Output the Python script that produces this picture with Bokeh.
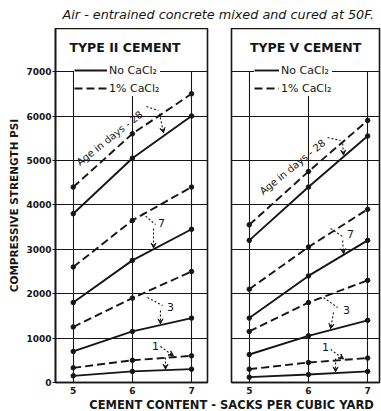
from bokeh.plotting import figure
from bokeh.layouts import column, row
from bokeh.models import Range1d, FixedTicker, Legend, LegendItem, Arrow, VeeHead
from bokeh.core.properties import value
from bokeh.embed import file_html
from bokeh.resources import INLINE

# ---------------- data ----------------
sacks = [5, 6, 7]
x_ticks = [5, 6, 7]
y_ticks = [0, 1000, 2000, 3000, 4000, 5000, 6000, 7000]
grid_y = [1000, 2000, 3000, 4000, 5000, 6000, 7000]

# Type II cement (psi)
t2_1d_no = [150, 250, 300]
t2_1d_ca = [330, 500, 600]
t2_3d_no = [700, 1150, 1450]
t2_3d_ca = [1250, 1900, 2500]
t2_7d_no = [1800, 2750, 3450]
t2_7d_ca = [2600, 3650, 4400]
t2_28d_no = [3800, 5050, 6000]
t2_28d_ca = [4400, 5600, 6500]

# Type V cement (psi)
t5_1d_no = [120, 180, 250]
t5_1d_ca = [300, 450, 550]
t5_3d_no = [630, 1050, 1400]
t5_3d_ca = [1150, 1800, 2300]
t5_7d_no = [1450, 2400, 3200]
t5_7d_ca = [2100, 3050, 3900]
t5_28d_no = [3200, 4400, 5550]
t5_28d_ca = [3550, 4750, 5900]

title_text = "Air - entrained concrete mixed and cured at 50F."
panel_titles = ["TYPE II CEMENT", "TYPE V CEMENT"]
legend_labels = ["No CaCl₂", "1% CaCl₂"]
age_labels = ["Age in days - 28", "7", "3", "1"]
y_label = "COMPRESSIVE STRENGTH PSI"
x_label = "CEMENT CONTENT - SACKS PER CUBIC YARD"

INK = "#161616"
FONT = "DejaVu Sans"


def make_panel(no_series, ca_series, title, title_x, frame_w, x_end,
               left_b, right_b, with_y, legend_x, glyph_w, ann):
    p = figure(frame_width=frame_w, frame_height=354,
               x_range=Range1d(4.70, x_end), y_range=Range1d(0, 7970),
               output_backend="svg", toolbar_location=None, title=None,
               min_border_left=left_b, min_border_right=right_b,
               min_border_top=0, min_border_bottom=14,
               y_axis_location="left" if with_y else None)
    p.background_fill_color = "white"
    p.border_fill_color = "white"
    p.outline_line_color = INK
    p.outline_line_width = 1.6
    p.outline_line_alpha = 1.0

    # grids
    p.xgrid.ticker = FixedTicker(ticks=x_ticks)
    p.ygrid.ticker = FixedTicker(ticks=grid_y)
    p.grid.grid_line_color = INK
    p.grid.grid_line_width = 1.1
    p.grid.grid_line_alpha = 1.0
    try:
        p.xgrid.cross_bounds = (0, 7000)
    except Exception:
        pass

    # x axis
    p.xaxis.ticker = FixedTicker(ticks=x_ticks)
    p.xaxis.axis_line_color = INK
    p.xaxis.axis_line_width = 1.6
    p.xaxis.major_tick_out = 0
    p.xaxis.major_tick_in = 0
    p.xaxis.minor_tick_out = 0
    p.xaxis.major_label_standoff = 4
    p.xaxis.major_label_text_font = FONT
    p.xaxis.major_label_text_font_size = "9px"
    p.xaxis.major_label_text_font_style = "bold"
    p.xaxis.major_label_text_color = INK

    if with_y:
        p.yaxis.ticker = FixedTicker(ticks=y_ticks)
        p.yaxis.axis_line_color = INK
        p.yaxis.axis_line_width = 1.6
        p.yaxis.major_tick_out = 3
        p.yaxis.major_tick_in = 0
        p.yaxis.major_tick_line_color = INK
        p.yaxis.minor_tick_out = 0
        p.yaxis.major_label_standoff = 1
        p.yaxis.major_label_text_font = FONT
        p.yaxis.major_label_text_font_size = "9px"
        p.yaxis.major_label_text_font_style = "bold"
        p.yaxis.major_label_text_color = INK
        p.yaxis.axis_label = y_label
        p.yaxis.axis_label_text_font = FONT
        p.yaxis.axis_label_text_font_size = "10.5px"
        p.yaxis.axis_label_text_font_style = "bold"
        p.yaxis.axis_label_text_color = INK
        p.yaxis.axis_label_standoff = 3

    solid_r = None
    dash_r = None
    for vals in no_series:
        r = p.line(sacks, vals, line_color=INK, line_width=1.9)
        p.scatter(sacks, vals, size=4.5, color=INK)
        solid_r = solid_r or r
    for vals in ca_series:
        r = p.line(sacks, vals, line_color=INK, line_width=1.9, line_dash="8 4")
        p.scatter(sacks, vals, size=4.5, color=INK)
        dash_r = dash_r or r

    legend = Legend(items=[LegendItem(label=legend_labels[0], renderers=[solid_r]),
                           LegendItem(label=legend_labels[1], renderers=[dash_r])],
                    location=(legend_x, 286), padding=3, margin=0, spacing=2,
                    glyph_width=glyph_w, glyph_height=16, label_height=16,
                    label_standoff=2, label_text_font=FONT,
                    label_text_font_size="11px", label_text_color=INK,
                    background_fill_color="white", background_fill_alpha=1.0,
                    border_line_color=None)
    p.add_layout(legend)

    # panel title
    p.text(x=[title_x], y=[7540], text=[title], text_font=value(FONT),
           text_font_size="12.5px", text_font_style="bold", text_color=INK,
           text_align="center", text_baseline="middle")

    # annotations
    ax, ay, aang = ann["age"]
    p.text(x=[ax], y=[ay], text=[age_labels[0]], angle=aang, text_font=value(FONT),
           text_font_size="10px", text_color=INK, text_align="center",
           text_baseline="middle")
    lx, ly = zip(*ann["nums"])
    p.text(x=list(lx), y=list(ly), text=age_labels[1:], text_font=value(FONT),
           text_font_size="11px", text_color=INK, text_align="center",
           text_baseline="middle")
    sx0, sy0, sx1, sy1 = zip(*ann["brackets"])
    p.segment(x0=list(sx0), y0=list(sy0), x1=list(sx1), y1=list(sy1),
              line_color=INK, line_width=1.1, line_dash="2 2")
    for (x0, y0, x1, y1) in ann["arrows"]:
        p.add_layout(Arrow(end=VeeHead(size=5, line_color=INK, fill_color=INK, line_width=1),
                           x_start=x0, y_start=y0, x_end=x1, y_end=y1,
                           line_color=INK, line_width=1.1, line_dash="2 2"))
    return p


ann_left = {
    "age": (5.613, 5500, 0.67),
    "nums": [(6.492, 3602), (6.644, 1711), (6.391, 833)],
    "brackets": [(6.238, 6213, 6.441, 6123), (6.171, 3804, 6.391, 3557),
                 (6.255, 1913, 6.509, 1733)],
    "arrows": [(6.458, 6055, 6.526, 5620), (6.357, 3467, 6.357, 3030),
               (6.475, 1621, 6.475, 1320), (6.475, 810, 6.695, 600),
               (6.560, 563, 6.560, 300)],
}
ann_right = {
    "age": (5.731, 4850, 0.68),
    "nums": [(6.712, 3354), (6.644, 1643), (6.289, 788)],
    "brackets": [(6.323, 5515, 6.543, 5447), (6.374, 3467, 6.577, 3286),
                 (6.255, 1913, 6.492, 1688)],
    "arrows": [(6.577, 5380, 6.593, 5120), (6.577, 3196, 6.593, 2900),
               (6.424, 1576, 6.374, 1210), (6.374, 743, 6.593, 530),
               (6.458, 540, 6.458, 240)],
}

p1 = make_panel([t2_1d_no, t2_3d_no, t2_7d_no, t2_28d_no],
                [t2_1d_ca, t2_3d_ca, t2_7d_ca, t2_28d_ca],
                panel_titles[0], 5.875, 152, 7.27, 55, 12, True, 19, 33, ann_left)
p2 = make_panel([t5_1d_no, t5_3d_no, t5_7d_no, t5_28d_no],
                [t5_1d_ca, t5_3d_ca, t5_7d_ca, t5_28d_ca],
                panel_titles[1], 5.951, 148, 7.20, 12, 2, False, 23, 25, ann_right)


def text_strip(h, txt, x, y, size, style, align, baseline):
    f = figure(width=381, height=h, x_range=Range1d(0, 381), y_range=Range1d(0, h),
               output_backend="svg", toolbar_location=None, title=None,
               x_axis_location=None, y_axis_location=None, min_border=0)
    f.grid.visible = False
    f.outline_line_color = None
    f.text(x=[x], y=[y], text=[txt], text_font=value(FONT), text_font_size=size,
           text_font_style=style, text_color=INK, text_align=align,
           text_baseline=baseline)
    return f


header = text_strip(28, title_text, 62, 14, "12.8px", "italic", "left", "middle")
footer = text_strip(15, x_label, 231, 7, "11.5px", "bold", "center", "middle")

layout = column(header, row(p1, p2), footer)
open("out.html", "w").write(file_html(layout, INLINE))
